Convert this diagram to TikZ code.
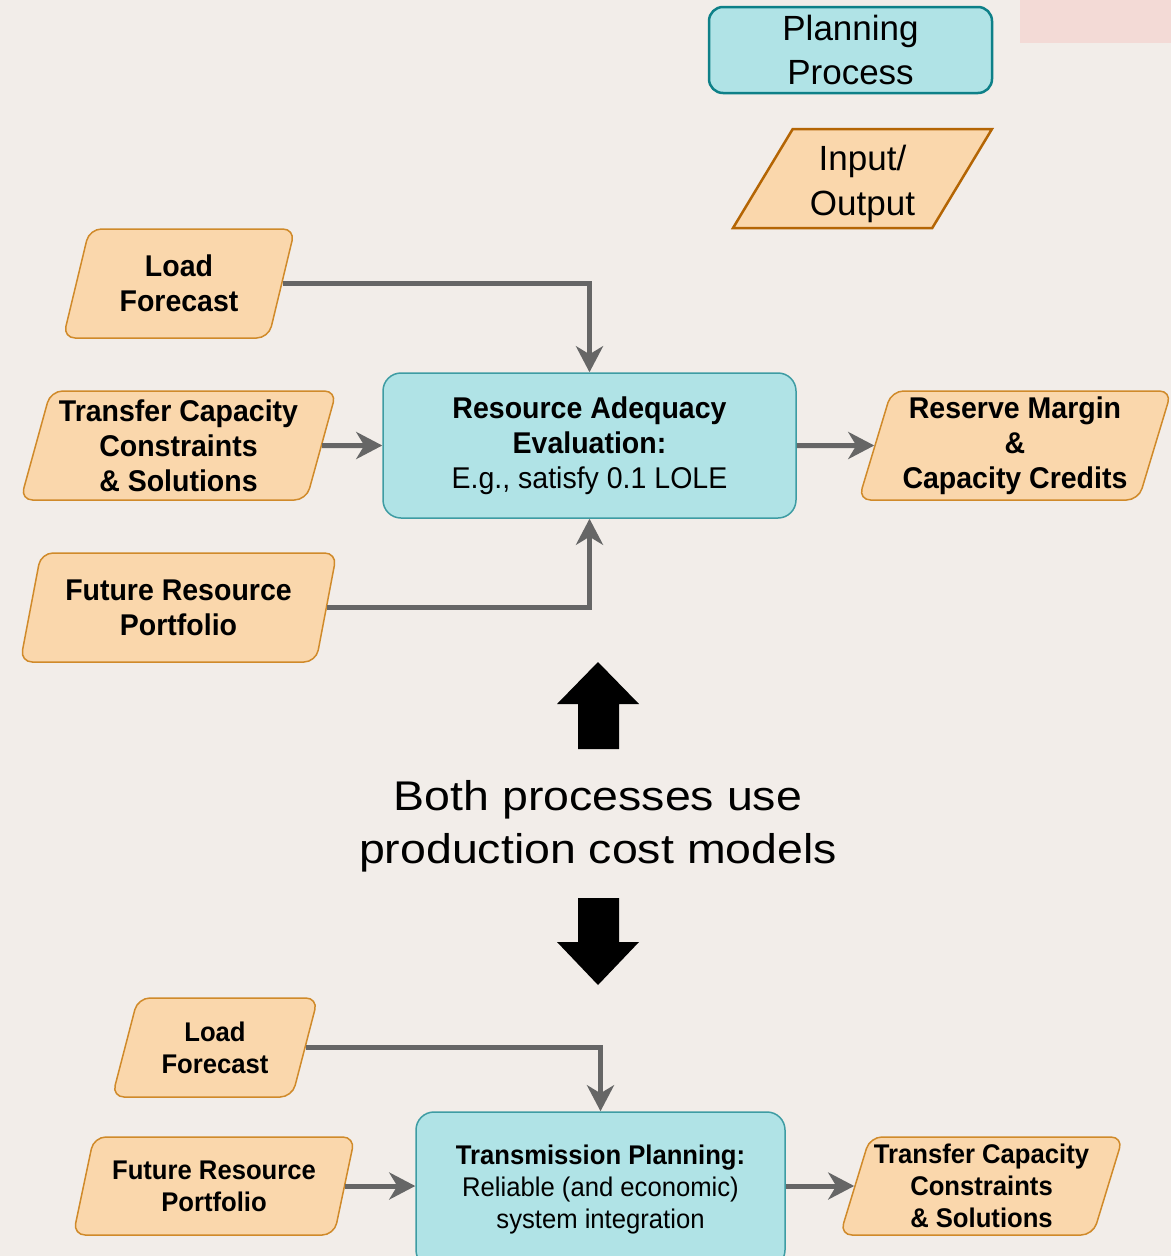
\documentclass[tikz,border=0pt]{standalone}
\usepackage{fontspec}
\setmainfont{Liberation Sans}
\newfontfamily\narrowfam[FakeStretch=0.95]{Liberation Sans}
\newfontfamily\widefam[FakeStretch=1.12]{Liberation Sans}
\usetikzlibrary{shapes.geometric, arrows.meta}

\definecolor{bgcol}{HTML}{F2EDE9}
\definecolor{pinkcol}{HTML}{F3DAD6}
\definecolor{procfill}{HTML}{B0E3E6}
\definecolor{procline}{HTML}{3E9CA3}
\definecolor{legline}{HTML}{0E8088}
\definecolor{iofill}{HTML}{FAD7AC}
\definecolor{ioline}{HTML}{D08A2A}
\definecolor{legioline}{HTML}{B46504}
\definecolor{linkcol}{HTML}{666666}

\newcommand{\boxfont}{\narrowfam\fontsize{30}{35}\selectfont}
\newcommand{\smallboxfont}{\narrowfam\fontsize{27}{32}\selectfont}

\tikzset{
  process/.style={draw=procline, fill=procfill, line width=1.5pt, rounded corners=18pt,
    align=center, inner sep=0pt},
  io/.style={trapezium, trapezium stretches=true, trapezium left angle=73,
    trapezium right angle=107, draw=ioline, fill=iofill, line width=1.5pt,
    rounded corners=12pt, align=center, inner sep=0pt},
  link/.style={draw=linkcol, line width=5pt, -{Stealth[length=26pt,width=27pt,inset=8pt]}}
}

\begin{document}
\begin{tikzpicture}[x=1pt, y=-1pt]
  % Canvas
  \clip (0,0) rectangle (1171,1256);
  \fill[bgcol] (0,0) rectangle (1171,1256);
  \fill[pinkcol] (1020,0) rectangle (1171,43);
  % Legend
  \node[process, draw=legline, line width=2.5pt, rounded corners=14pt, minimum width=283pt, minimum height=86pt,
    font=\fontsize{35}{44}\selectfont] (legproc) at (850.5,50) {Planning\\Process};
  \node[io, draw=legioline, line width=2.5pt, rounded corners=0pt, trapezium left angle=63, trapezium right angle=117,
    minimum width=259pt, minimum height=99pt, font=\fontsize{35}{45}\selectfont] (legio) at (862.5,178.5)
    {\rule{0pt}{36pt}Input/\\Output};
  % Resource adequacy
  \node[process, minimum width=413pt, minimum height=145pt, font=\boxfont] (ra) at (589.5,445.5)
    {\textbf{Resource Adequacy}\\\textbf{Evaluation:}\\E.g., satisfy 0.1 LOLE};
  \node[io, minimum width=232pt, minimum height=109pt, font=\boxfont] (lf1) at (179,283.5) {\textbf{Load}\\\textbf{Forecast}};
  \node[io, minimum width=317pt, minimum height=109pt, font=\boxfont] (tcc1) at (178.5,445.5)
    {\textbf{Transfer Capacity}\\\textbf{Constraints}\\\textbf{\& Solutions}};
  \node[io, minimum width=317pt, minimum height=109pt, font=\boxfont] (frp1) at (178.5,607.5)
    {\textbf{Future Resource}\\\textbf{Portfolio}};
  \node[io, minimum width=313pt, minimum height=109pt, font=\boxfont] (rm) at (1015,445.5)
    {\textbf{Reserve Margin}\\\textbf{\&}\\\textbf{Capacity Credits}};
  \draw[link] (lf1.east) -| (ra.north);
  \draw[link] (tcc1.east) -- (ra.west);
  \draw[link] (frp1.east) -| (ra.south);
  \draw[link] (ra.east) -- (rm.west);
  % Shared models
  \fill (598,662) -- (639,704) -- (619,704) -- (619,749) -- (578,749) -- (578,704) -- (557,704) -- cycle;
  \node[font=\widefam\fontsize{41.5}{53}\selectfont, align=center] (pcm) at (598,826) {Both processes use\\production cost models};
  \fill (578,898) -- (619,898) -- (619,942) -- (639,942) -- (598,985) -- (557,942) -- (578,942) -- cycle;
  % Transmission planning
  \node[process, minimum width=369pt, minimum height=156pt, font=\smallboxfont] (tp) at (600.5,1190)
    {\textbf{Transmission Planning:}\\Reliable (and economic)\\system integration};
  \node[io, trapezium left angle=71, trapezium right angle=109, minimum width=206pt, minimum height=99pt,
    font=\smallboxfont] (lf2) at (215,1047.5) {\textbf{Load}\\\textbf{Forecast}};
  \node[io, trapezium left angle=71, trapezium right angle=109, minimum width=282pt, minimum height=98pt,
    font=\smallboxfont] (frp2) at (214,1186) {\textbf{Future Resource}\\\textbf{Portfolio}};
  \node[io, trapezium left angle=71, trapezium right angle=109, minimum width=283pt, minimum height=98pt,
    font=\smallboxfont] (tcc2) at (981.5,1186) {\textbf{Transfer Capacity}\\\textbf{Constraints}\\\textbf{\& Solutions}};
  \draw[link] (lf2.east) -| (tp.north);
  \draw[link] (frp2.east) -- (frp2.east -| tp.west);
  \draw[link] (tp.east |- tcc2.west) -- (tcc2.west);
\end{tikzpicture}
\end{document}
